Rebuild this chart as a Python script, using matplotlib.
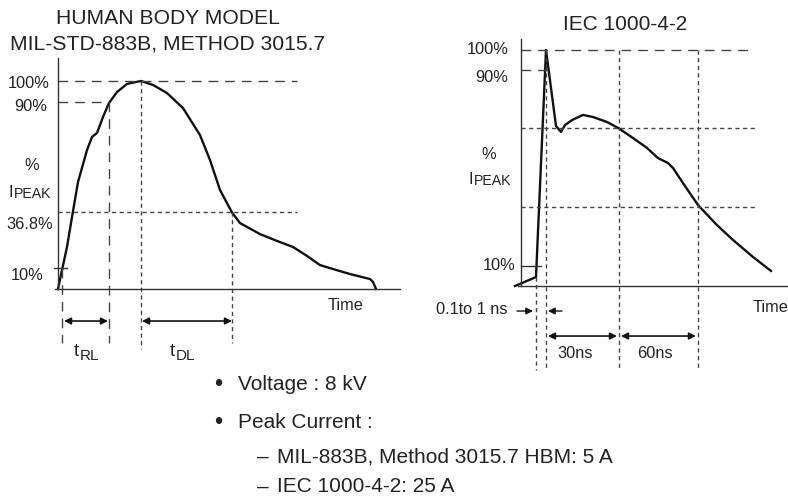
import matplotlib
matplotlib.use("Agg")
import matplotlib.pyplot as plt

# ---------------- data ----------------
# Human Body Model pulse (time in arbitrary units, current in % of peak)
hbm_t = [0, 4, 9, 14, 20, 29, 34, 39, 45, 51, 59, 69, 83, 95, 109, 125, 142, 152,
         162, 174, 182, 202, 219, 235, 249, 262, 275, 292, 312, 315, 318]
hbm_pct = [0, 9.1, 20.2, 34.6, 51.4, 66.8, 73.1, 75.0, 82.7, 89.4, 94.7, 98.6, 100,
           98.1, 94.2, 87.0, 74.0, 62.0, 47.6, 36.8, 31.7, 26.4, 23.1, 20.2, 15.9,
           11.5, 9.6, 7.2, 4.8, 3.4, 0]
hbm_levels = [100, 90, 36.8, 10]
hbm_level_labels = ["100%", "90%", "36.8%", "10%"]
hbm_marks = {"t10": 4, "t90": 51, "tpeak": 83, "t368": 174}

# IEC 1000-4-2 pulse
iec_t = [-6, 15, 25, 35, 40, 44, 51, 62, 72, 86, 97, 112, 126, 137, 147, 152,
         162, 177, 196, 212, 232, 250]
iec_pct = [0, 3.8, 100, 67.8, 65.3, 68.2, 70.3, 72.5, 71.6, 69.5, 67.0, 62.7, 58.5,
           54.2, 52.1, 50.0, 43.6, 34.3, 25.8, 19.5, 12.3, 6.4]
iec_levels = [100, 90, 10]
iec_level_labels = ["100%", "90%", "10%"]
iec_ref_levels = [67, 33.5]
iec_marks = {"t10": 15, "tpeak": 25, "t30": 98, "t60": 177}

bullets = ["Voltage : 8 kV", "Peak Current :"]
subbullets = ["MIL-883B, Method 3015.7 HBM: 5 A", "IEC 1000-4-2: 25 A"]

# ---------------- style ----------------
FONT = "Liberation Sans"
plt.rcParams["font.family"] = [FONT, "DejaVu Sans"]
TXT = "#222222"
CURVE = "#111111"
GRID = "#444444"
W, H = 788, 497
fig = plt.figure(figsize=(W / 100, H / 100), dpi=100)


def fx(x):
    return x / W


def fy(y):
    return 1 - y / H


def add_axes_px(x0, y0, x1, y1):
    return fig.add_axes([fx(x0), fy(y1), (x1 - x0) / W, (y1 - y0) / H])


def txt(x, y, s, size=11.8, ha="center", va="center", **kw):
    fig.text(fx(x), fy(y), s, ha=ha, va=va, fontsize=size, color=TXT, **kw)


def setup(ax, xlim, ylim, ytop, xright):
    ax.set_xlim(*xlim)
    ax.set_ylim(*ylim)
    ax.patch.set_alpha(0)
    for s in ["top", "right"]:
        ax.spines[s].set_visible(False)
    for s in ["left", "bottom"]:
        ax.spines[s].set_position(("data", 0))
        ax.spines[s].set_color("#333333")
        ax.spines[s].set_linewidth(1.0)
    ax.spines["left"].set_bounds(0, ytop)
    ax.spines["bottom"].set_bounds(-3, xright)
    ax.set_xticks([])
    ax.set_yticks([])


dash_long = dict(color=GRID, lw=1.0, dashes=(7, 5))
dash_short = dict(color=GRID, lw=1.0, dashes=(3, 2.5))
arrow = dict(arrowstyle="<|-|>", mutation_scale=10, lw=1.2, color=CURVE,
             shrinkA=0, shrinkB=0)
arrow1 = dict(arrowstyle="-|>", mutation_scale=10, lw=1.0, color=CURVE,
              shrinkA=0, shrinkB=0)

# ---------------- left panel (HBM) ----------------
# pixel mapping: x = 58 + t ; y = 289 - 2.08 * pct
axL = add_axes_px(50, 58, 400, 370)
setup(axL, (-8, 342), ((289 - 370) / 2.08, (289 - 58) / 2.08), (289 - 58) / 2.08, 342)
axL.plot(hbm_t, hbm_pct, color=CURVE, lw=1.7, solid_joinstyle="round", clip_on=False)
m = hbm_marks
axL.plot([0, 239], [100, 100], **dash_long)
axL.plot([0, m["t90"]], [90, 90], **dash_long)
axL.plot([0, 239], [36.8, 36.8], **dash_short)
axL.plot([-4.5, 9], [10, 10], color="#333333", lw=1.0)
axL.plot([m["t10"], m["t10"]], [10, -26], **dash_long, clip_on=False)
axL.plot([m["t90"], m["t90"]], [90, -26], **dash_long, clip_on=False)
axL.plot([m["tpeak"], m["tpeak"]], [100, -29], **dash_short, clip_on=False)
axL.plot([m["t368"], m["t368"]], [36.8, -26], **dash_short, clip_on=False)
axL.annotate("", xy=(m["t10"] + 2, -15.4), xytext=(m["t90"] - 1, -15.4), arrowprops=arrow)
axL.annotate("", xy=(m["tpeak"] + 1, -15.4), xytext=(m["t368"], -15.4), arrowprops=arrow)

txt(168, 18, "HUMAN BODY MODEL", size=15.2)
txt(168, 44, "MIL-STD-883B, METHOD 3015.7", size=15.2)
for lab, (xr, yc) in zip(hbm_level_labels, [(50, 84), (47, 106), (53, 224), (44, 275)]):
    txt(xr, yc, lab, ha="right")
txt(32, 166, "%")
txt(9, 197, "I", ha="left", va="baseline")
txt(13.5, 198, "PEAK", size=10.2, ha="left", va="baseline")
txt(346, 306, "Time")
txt(73.5, 356, "t", size=13, ha="left", va="baseline")
txt(79.5, 360, "RL", size=11, ha="left", va="baseline")
txt(169.5, 356, "t", size=13, ha="left", va="baseline")
txt(175.5, 360, "DL", size=11, ha="left", va="baseline")

# ---------------- right panel (IEC) ----------------
# pixel mapping: x = 521 + t ; y = 286 - 2.36 * pct
axR = add_axes_px(505, 39, 788, 375)
setup(axR, (-16, 267), ((286 - 375) / 2.36, (286 - 39) / 2.36), (286 - 39) / 2.36, 267)
axR.plot(iec_t, iec_pct, color=CURVE, lw=1.7, solid_joinstyle="round", clip_on=False)
m = iec_marks
axR.plot([0, 231], [100, 100], **dash_long)
axR.plot([0, 27], [91.5, 91.5], **dash_long)
for lv in iec_ref_levels:
    axR.plot([0, 236], [lv, lv], **dash_short)
axR.plot([0, 20], [8.5, 8.5], color="#333333", lw=1.0)
axR.plot([m["t10"], m["t10"]], [3.8, -35.6], **dash_short, clip_on=False)
for k in ["tpeak", "t30", "t60"]:
    axR.plot([m[k], m[k]], [100, -35.6], **dash_short, clip_on=False)
axR.annotate("", xy=(12, -10.6), xytext=(-4, -10.6), arrowprops=arrow1, annotation_clip=False)
axR.annotate("", xy=(27, -10.6), xytext=(41, -10.6), arrowprops=arrow1, annotation_clip=False)
axR.annotate("", xy=(27, -21.2), xytext=(96, -21.2), arrowprops=arrow)
axR.annotate("", xy=(100, -21.2), xytext=(175, -21.2), arrowprops=arrow)

txt(625, 24, "IEC 1000-4-2", size=15)
for lab, (xr, yc) in zip(iec_level_labels, [(509, 49), (508, 77), (515, 266)]):
    txt(xr, yc, lab, ha="right")
txt(489, 155, "%")
txt(469, 184, "I", ha="left", va="baseline")
txt(473.5, 185, "PEAK", size=10.2, ha="left", va="baseline")
txt(753, 308, "Time", ha="left")
txt(507, 309, "0.1to 1 ns", ha="right")
txt(575, 353, "30ns")
txt(655, 353, "60ns")

# ---------------- bullets ----------------
for s, y in zip(bullets, [385, 423]):
    txt(218, y, "\u2022", size=17)
    txt(238, y, s, size=15, ha="left")
for s, y in zip(subbullets, [457, 487]):
    txt(257, y, "\u2013", size=15, ha="left")
    txt(277, y, s, size=15, ha="left")

fig.savefig("out.png", dpi=100)
